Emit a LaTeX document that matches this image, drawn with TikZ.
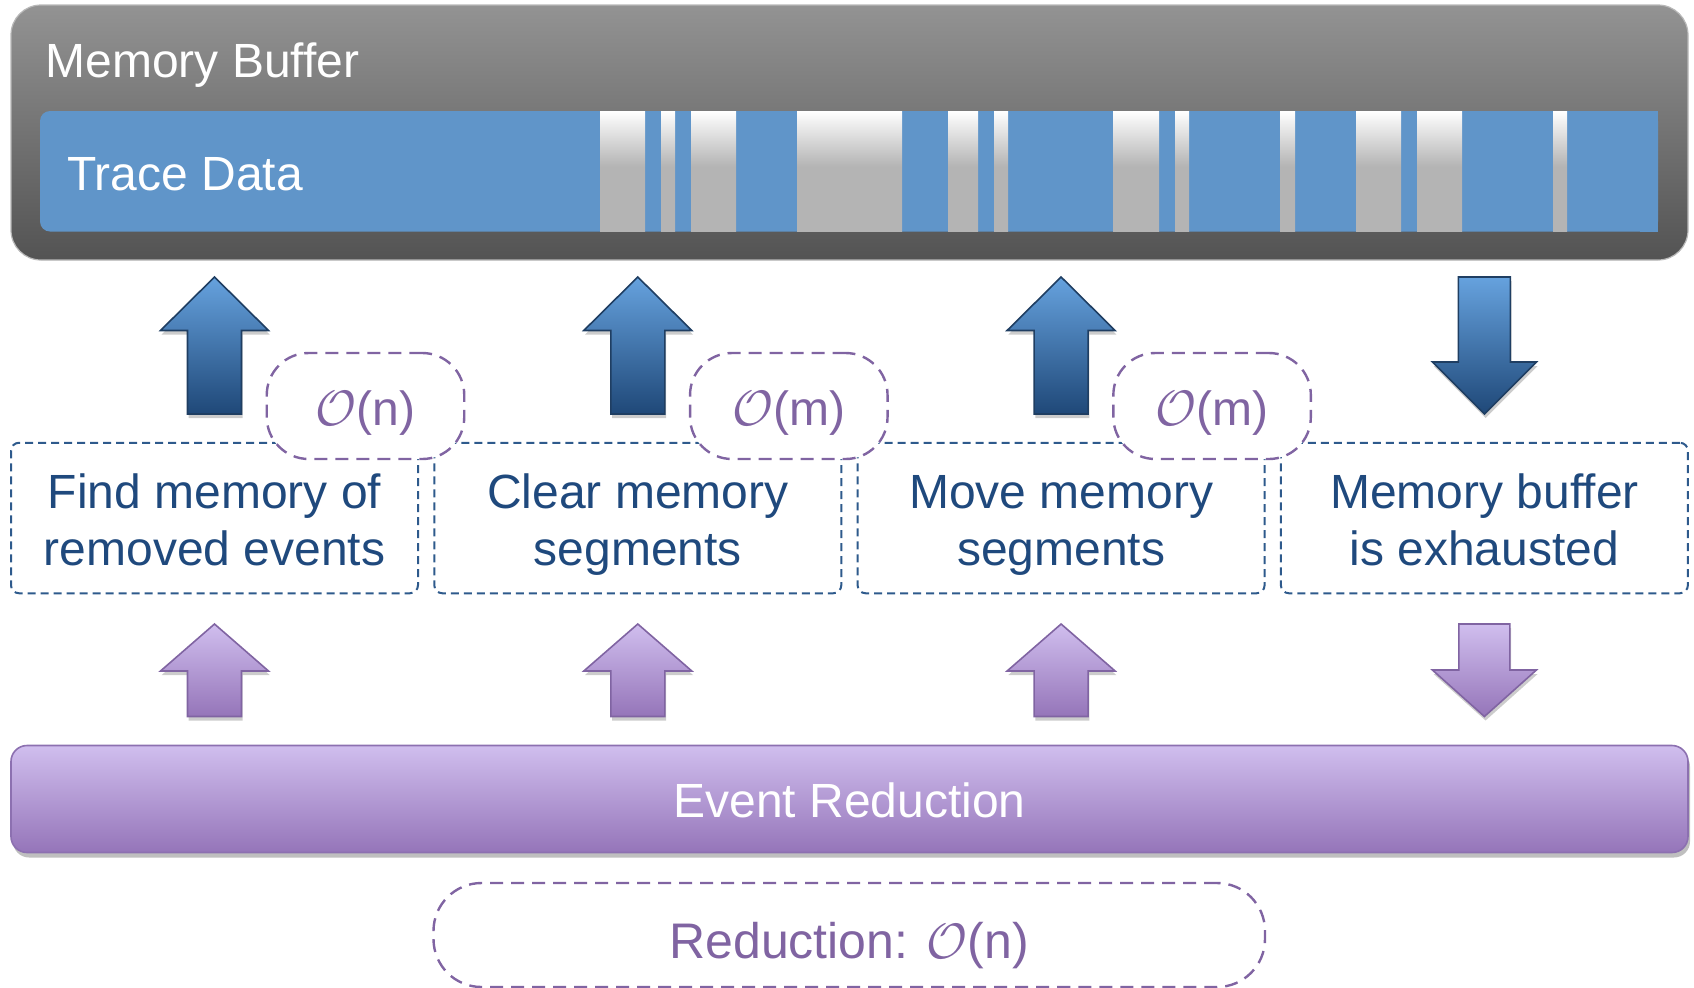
\documentclass[tikz,border=0pt]{standalone}
\usepackage{fontspec}
\setmainfont{Liberation Sans}
\usetikzlibrary{shadows}

\definecolor{bufTop}{HTML}{939393}
\definecolor{bufBot}{HTML}{535353}
\definecolor{bufEdge}{HTML}{B8B8B8}
\definecolor{traceBlue}{HTML}{6095C9}
\definecolor{stripeGray}{HTML}{B4B4B4}
\definecolor{arrBlueTop}{HTML}{66A2DE}
\definecolor{arrBlueBot}{HTML}{1F4878}
\definecolor{arrBlueEdge}{HTML}{1F3E62}
\definecolor{stepText}{HTML}{1F497D}
\definecolor{stepEdge}{HTML}{2E5A8C}
\definecolor{cplx}{HTML}{8064A2}
\definecolor{redTop}{HTML}{D0BEEE}
\definecolor{redBot}{HTML}{9575B9}
\definecolor{redEdge}{HTML}{8C70B0}

% free segments: white at the top, fading to grey by mid-height
\pgfdeclareverticalshading{stripeshade}{100bp}{color(0bp)=(stripeGray); color(52bp)=(stripeGray); color(75bp)=(white); color(100bp)=(white)}

\newcommand\steplines[1]{\parbox[b]{200pt}{\centering #1}}

\tikzset{
  bigfont/.style={font=\fontsize{24}{28.5}\selectfont},
  bufbox/.style={draw=bufEdge, line width=0.6pt, top color=bufTop, bottom color=bufBot,
    rounded corners=15pt, inner sep=0pt},
  tracebar/.style={fill=traceBlue, rounded corners=5pt, inner sep=0pt},
  whitelabel/.style={bigfont, text=white, inner sep=0pt},
  bluearrow/.style={draw=arrBlueEdge, line width=0.8pt, top color=arrBlueTop, bottom color=arrBlueBot,
    drop shadow={shadow xshift=0.6pt, shadow yshift=-2pt, opacity=0.2, fill=black}},
  purplearrow/.style={draw=cplx, line width=0.8pt, top color=redTop, bottom color=redBot,
    drop shadow={shadow xshift=0.6pt, shadow yshift=-2pt, opacity=0.2, fill=black}},
  stepbox/.style={bigfont, draw=stepEdge, line width=1pt, dash pattern=on 4pt off 2.5pt,
    rounded corners=4pt, minimum width=203.5pt, minimum height=75.25pt, inner sep=0pt,
    text=stepText, text height=47pt, text depth=0pt},
  cplxbox/.style={bigfont, draw=cplx, line width=1.2pt, dash pattern=on 6.5pt off 4pt,
    fill=white, rounded corners=21pt, minimum width=98.75pt, minimum height=53pt,
    inner sep=0pt, text=cplx, text height=19.5pt, text depth=0pt},
  redbar/.style={bigfont, draw=redEdge, line width=0.8pt, top color=redTop, bottom color=redBot,
    rounded corners=8pt, minimum width=838.5pt, minimum height=53.5pt, inner sep=0pt,
    text=white, text height=18.8pt, text depth=0pt,
    drop shadow={shadow xshift=1pt, shadow yshift=-2.5pt, opacity=0.25, fill=black}}
}

\begin{document}
\begin{tikzpicture}[x=0.5pt, y=-0.5pt]
\useasboundingbox (0,0) rectangle (1694,987);

% memory buffer with its trace data
\node[bufbox, minimum width=838.5pt, minimum height=127.5pt] (membuf) at (849.5,132.5) {};
\node[whitelabel, anchor=base west] (membuftitle) at (45,77) {Memory Buffer};
\node[tracebar, minimum width=809pt, minimum height=60.25pt] (trace) at (849,171.25) {};
\fill[traceBlue] (1640,111) rectangle (1658,231.5);
\foreach \a/\b in {600/645, 661/675, 691/736, 797/902, 948/978, 994/1008,
                   1113/1159, 1175/1189, 1280/1295, 1356/1401, 1417/1462, 1553/1567}
  \fill[shading=stripeshade] (\a,111) rectangle (\b,231.5);
\node[whitelabel, anchor=base west] (tracetitle) at (67,190) {Trace Data};

% blue arrows between the buffer and the steps
\foreach \i in {0,1,2}{
  \pgfmathsetmacro\cx{214.5+423.3*\i}
  \path[bluearrow] (\cx,277) -- (\cx+54,330.5) -- (\cx+27,330.5) -- (\cx+27,414)
    -- (\cx-27,414) -- (\cx-27,330.5) -- (\cx-54,330.5) -- cycle;
}
\path[bluearrow] (1458.4,277) -- (1510.4,277) -- (1510.4,362) -- (1536.4,362)
  -- (1484.4,414) -- (1432.4,362) -- (1458.4,362) -- cycle;

% the four steps
\node[stepbox] (find)    at (214.5,518)  {\steplines{Find memory of\\removed events}};
\node[stepbox] (clear)   at (637.8,518)  {\steplines{Clear memory\\segments}};
\node[stepbox] (move)    at (1061.1,518) {\steplines{Move memory\\segments}};
\node[stepbox] (exhaust) at (1484.4,518) {\steplines{Memory buffer\\is exhausted}};

% cost of each step
\node[cplxbox] (costfind)  at (365.5,406)  {$\mathcal{O}$(n)};
\node[cplxbox] (costclear) at (788.8,406)  {$\mathcal{O}$(m)};
\node[cplxbox] (costmove)  at (1212.1,406) {$\mathcal{O}$(m)};

% purple arrows between the steps and the reduction
\foreach \i in {0,1,2}{
  \pgfmathsetmacro\cx{214.5+423.3*\i}
  \path[purplearrow] (\cx,624) -- (\cx+54,671) -- (\cx+27,671) -- (\cx+27,716.5)
    -- (\cx-27,716.5) -- (\cx-27,671) -- (\cx-54,671) -- cycle;
}
\path[purplearrow] (1458.9,624) -- (1509.9,624) -- (1509.9,670) -- (1536.4,670)
  -- (1484.4,716.5) -- (1432.4,670) -- (1458.9,670) -- cycle;

% event reduction
\node[redbar] (reduction) at (849.5,799) {Event Reduction};
\node[cplxbox, minimum width=415.75pt, minimum height=52pt, rounded corners=24pt,
      font=\fontsize{25}{30}\selectfont, text height=23pt] (total) at (849.25,935)
      {Reduction: $\mathcal{O}$(n)};
\end{tikzpicture}
\end{document}
